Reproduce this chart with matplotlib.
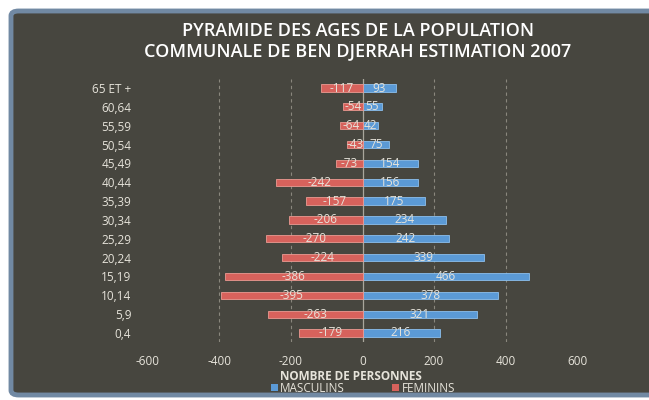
import matplotlib
matplotlib.use("Agg")
import matplotlib.pyplot as plt
from matplotlib.patches import FancyBboxPatch, Patch
import numpy as np

age_groups = ["0,4", "5,9", "10,14", "15,19", "20,24", "25,29", "30,34",
              "35,39", "40,44", "45,49", "50,54", "55,59", "60,64", "65 ET +"]
masculins = [216, 321, 378, 466, 339, 242, 234, 175, 156, 154, 75, 42, 55, 93]
feminins = [-179, -263, -395, -386, -224, -270, -206, -157, -242, -73, -43, -64, -54, -117]
x_ticks = [-600, -400, -200, 0, 200, 400, 600]

title = "PYRAMIDE DES AGES DE LA POPULATION\nCOMMUNALE DE BEN DJERRAH ESTIMATION 2007"

BG = "#47463f"
BLUE = "#5b9ad6"
RED = "#d7625c"
TXT = "#e6e3da"
W, H = 649, 400

plt.rcParams['font.family'] = ['Open Sans', 'DejaVu Sans']

fig = plt.figure(figsize=(W / 100, H / 100), dpi=100, facecolor="white")

panel = FancyBboxPatch((11 / W, 5 / H), 660 / W, 384 / H,
                       boxstyle="round,pad=0,rounding_size=0.012",
                       transform=fig.transFigure, facecolor=BG,
                       edgecolor="#7189a3", linewidth=3.5, zorder=-10)
fig.patches.append(panel)

ax = fig.add_axes([148 / W, 1 - 342.4 / H, 429 / W, (342.4 - 78.6) / H])
ax.set_zorder(5)
ax.set_facecolor("none")
y = np.arange(len(age_groups))
bh = 0.38
ax.barh(y, masculins, height=bh, color=BLUE, edgecolor="#8cc0ee", linewidth=0.6, zorder=3)
ax.barh(y, feminins, height=bh, color=RED, edgecolor="#eb9a92", linewidth=0.6, zorder=3)

for yi, v in zip(y, masculins):
    ax.text(v / 2, yi, str(v), ha="center", va="center", color=TXT, fontsize=8.5, zorder=4)
for yi, v in zip(y, feminins):
    ax.text(v / 2, yi, str(v), ha="center", va="center", color=TXT, fontsize=8.5, zorder=4)

ax.set_xlim(-600, 600)
ax.set_ylim(-0.5, len(age_groups) - 0.5)
ax.set_xticks(x_ticks)
ax.set_xticklabels([str(t) for t in x_ticks])
ax.set_yticks(y)
ax.set_yticklabels(age_groups)
ax.tick_params(axis="both", length=0, colors=TXT, labelsize=8.5)
ax.tick_params(axis="x", pad=9)
ax.tick_params(axis="y", pad=12)
for s in ax.spines.values():
    s.set_visible(False)
for t in [-400, -200, 200, 400]:
    ax.axvline(t, color="#8a877d", linewidth=0.8, linestyle=(0, (3, 3)), zorder=1)
ax.axvline(0, color="#a9a69c", linewidth=0.9, zorder=1)

fig.text(358 / W, 1 - 41.5 / H, title, ha="center", va="center", color="white",
         fontsize=13, fontweight="semibold", linespacing=1.15)

fig.text(351 / W, 1 - 376 / H, "NOMBRE DE PERSONNES", ha="center", va="center",
         color=TXT, fontsize=8.5, fontweight="bold")

handles = [Patch(facecolor=BLUE, edgecolor="none", label="MASCULINS"),
           Patch(facecolor=RED, edgecolor="none", label="FEMININS")]
leg = fig.legend(handles=handles, loc="center", bbox_to_anchor=(363 / W, 1 - 388 / H),
                 ncol=2, frameon=False, fontsize=8.5, handlelength=0.6, handleheight=0.6,
                 handletextpad=0.2, columnspacing=4.0, borderpad=0)
for t in leg.get_texts():
    t.set_color(TXT)

fig.savefig("out.png", dpi=100, facecolor="white")
